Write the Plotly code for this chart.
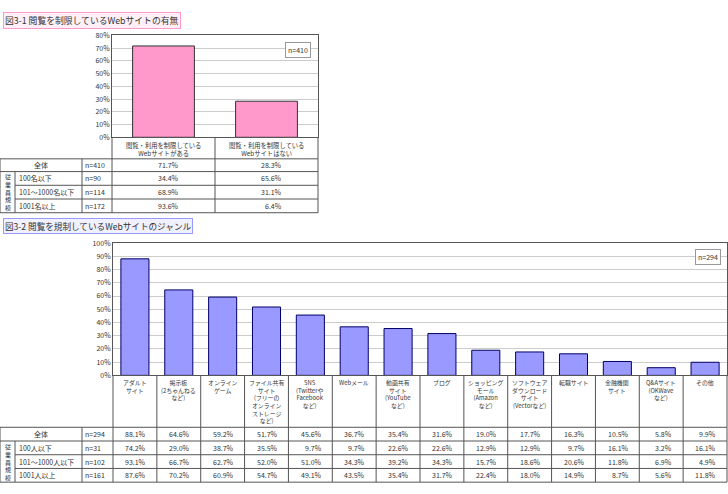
import plotly.graph_objects as go

# --- 図3-1 データ ---
cats1 = ['閲覧・利用を制限している<br>Webサイトがある', '閲覧・利用を制限している<br>Webサイトはない']
total1 = [71.7, 28.3]
rows1 = ['全体', '100名以下', '101～1000名以下', '1001名以上']
n1 = ['n=410', 'n=90', 'n=114', 'n=172']
has1 = [71.7, 34.4, 68.9, 93.6]
none1 = [28.3, 65.6, 31.1, 6.4]

# --- 図3-2 データ ---
cats2 = ['アダルト<br>サイト', '掲示板<br>(2ちゃんねる<br>など)', 'オンライン<br>ゲーム',
         'ファイル共有<br>サイト<br>(フリーの<br>オンライン<br>ストレージ<br>など)',
         'SNS<br>(Twitterや<br>Facebook<br>など)', 'Webメール',
         '動画共有<br>サイト<br>(YouTube<br>など)', 'ブログ',
         'ショッピング<br>モール<br>(Amazon<br>など)',
         'ソフトウェア<br>ダウンロード<br>サイト<br>(Vectorなど)',
         '転職サイト', '金融機関<br>サイト', 'Q&Aサイト<br>(OKWave<br>など)', 'その他']
rows2 = ['全体', '100人以下', '101～1000人以下', '1001人以上']
n2 = ['n=294', 'n=31', 'n=102', 'n=161']
vals2 = [
    [88.1, 64.6, 59.2, 51.7, 45.6, 36.7, 35.4, 31.6, 19.0, 17.7, 16.3, 10.5, 5.8, 9.9],
    [74.2, 29.0, 38.7, 35.5, 9.7, 9.7, 22.6, 22.6, 12.9, 12.9, 9.7, 16.1, 3.2, 16.1],
    [93.1, 66.7, 62.7, 52.0, 51.0, 34.3, 39.2, 34.3, 15.7, 18.6, 20.6, 11.8, 6.9, 4.9],
    [87.6, 70.2, 60.9, 54.7, 49.1, 43.5, 35.4, 31.7, 22.4, 18.0, 14.9, 8.7, 5.6, 11.8],
]

W, H = 728, 494
FONT = 'Noto Sans CJK JP'
TXT = '#333333'
LINE = '#555555'

def px(x):
    return x / W

def py(y):
    return 1 - y / H

fig = go.Figure()
fig.add_trace(go.Bar(x=cats1, y=total1, width=0.6, xaxis='x', yaxis='y',
                     marker=dict(color='#FF99CC', line=dict(color='#333333', width=1))))
fig.add_trace(go.Bar(x=cats2, y=vals2[0], width=0.64, xaxis='x2', yaxis='y2',
                     marker=dict(color='#9999FF', line=dict(color='#000066', width=1))))

shapes = []
ann = []

def hline(y, x0, x1):
    shapes.append(dict(type='line', xref='paper', yref='paper', x0=px(x0), x1=px(x1), y0=py(y), y1=py(y),
                       line=dict(color=LINE, width=1)))

def vline(x, y0, y1, xref='paper'):
    xx = px(x) if xref == 'paper' else x
    shapes.append(dict(type='line', xref=xref, yref='paper', x0=xx, x1=xx, y0=py(y0), y1=py(y1),
                       line=dict(color=LINE, width=1)))

def text(x, y, s, size=7.5, xanchor='center', xref='paper'):
    xx = px(x) if xref == 'paper' else x
    ann.append(dict(xref=xref, yref='paper', x=xx, y=py(y), text=s, showarrow=False,
                    xanchor=xanchor, yanchor='middle', font=dict(family=FONT, size=size, color=TXT)))

# ---------- 図3-1 ----------
ann.append(dict(xref='paper', yref='paper', x=px(3), y=py(15), text='図3-1 閲覧を制限しているWebサイトの有無',
                showarrow=False, xanchor='left', yanchor='middle', bgcolor='#FFF0F8',
                bordercolor='#FF99CC', borderwidth=1, borderpad=1,
                font=dict(family=FONT, size=8.8, color=TXT)))
ann.append(dict(xref='paper', yref='paper', x=px(311), y=py(37), text='n=410', showarrow=False,
                xanchor='right', yanchor='top', bgcolor='white', bordercolor='#999999', borderwidth=1,
                borderpad=2, font=dict(family=FONT, size=7, color=TXT)))
for c in cats1:
    ann.append(dict(xref='x', yref='paper', x=c, y=py(135.5), text=c, showarrow=False, xanchor='center',
                    yanchor='top', font=dict(family=FONT, size=6.3, color=TXT)))

b1 = [156, 169, 183, 197, 211]
for i, y in enumerate(b1):
    hline(y, 0 if i in (0, 1, 4) else 15, 318)
vline(0, 156, 211)
vline(15, 169, 211)
vline(82, 156, 211)
vline(112, 134, 211)
vline(0.5, 134, 211, xref='x')
vline(318, 134, 211)

for i in range(4):
    yc = (b1[i] + b1[i + 1]) / 2
    if i == 0:
        text(41, yc, rows1[i], size=7)
    else:
        text(16.5, yc, rows1[i], size=7, xanchor='left')
    text(83, yc, n1[i], size=7, xanchor='left')
    text(0.17, yc, f'{has1[i]:.1f}%', size=7, xanchor='right', xref='x')
    text(1.17, yc, f'{none1[i]:.1f}%', size=7, xanchor='right', xref='x')
text(7.5, 190, '従<br>業<br>員<br>規<br>模', size=6)

# ---------- 図3-2 ----------
ann.append(dict(xref='paper', yref='paper', x=px(3), y=py(225), text='図3-2 閲覧を規制しているWebサイトのジャンル',
                showarrow=False, xanchor='left', yanchor='middle', bgcolor='#F0F0FF',
                bordercolor='#9999FF', borderwidth=1, borderpad=1,
                font=dict(family=FONT, size=8.6, color=TXT)))
ann.append(dict(xref='paper', yref='paper', x=px(721), y=py(248), text='n=294', showarrow=False,
                xanchor='right', yanchor='top', bgcolor='white', bordercolor='#999999', borderwidth=1,
                borderpad=2, font=dict(family=FONT, size=7, color=TXT)))
for c in cats2:
    ann.append(dict(xref='x2', yref='paper', x=c, y=py(378), text=c, showarrow=False, xanchor='center',
                    yanchor='top', font=dict(family=FONT, size=5.9, color=TXT)))

b2 = [430, 444, 458, 472, 486]
for i, y in enumerate(b2):
    hline(y, 0 if i in (0, 1, 4) else 15, 727)
vline(0, 430, 486)
vline(15, 444, 486)
vline(82, 430, 486)
vline(113, 377, 486)
for k in range(len(cats2) - 1):
    vline(k + 0.5, 377, 486, xref='x2')
vline(727, 377, 486)

for i in range(4):
    yc = (b2[i] + b2[i + 1]) / 2
    if i == 0:
        text(41, yc, rows2[i], size=7)
    else:
        text(16.5, yc, rows2[i], size=7, xanchor='left')
    text(83, yc, n2[i], size=7, xanchor='left')
    for k, v in enumerate(vals2[i]):
        text(k + 0.3, yc, f'{v:.1f}%', size=7, xanchor='right', xref='x2')
text(7.5, 465, '従<br>業<br>員<br>規<br>模', size=6)

axis_common = dict(showline=True, mirror=True, linecolor=LINE, linewidth=1)
fig.update_layout(
    width=W, height=H, margin=dict(l=0, r=0, t=0, b=0),
    paper_bgcolor='white', plot_bgcolor='white', showlegend=False, bargap=0.4,
    font=dict(family=FONT, size=8, color=TXT),
    xaxis=dict(domain=[px(112), px(318)], anchor='y', showticklabels=False, ticks='', **axis_common),
    yaxis=dict(domain=[py(134), py(30)], anchor='x', range=[0, 80], dtick=10, ticksuffix='%',
               gridcolor='#cccccc', tickfont=dict(size=7), zeroline=False, **axis_common),
    xaxis2=dict(domain=[px(113), px(727)], anchor='y2', showticklabels=False, ticks='', **axis_common),
    yaxis2=dict(domain=[py(377), py(242)], anchor='x2', range=[0, 100], dtick=10, ticksuffix='%',
                gridcolor='#cccccc', tickfont=dict(size=7), zeroline=False, **axis_common),
    shapes=shapes, annotations=ann,
)

# ページ余白を消して 728x494 にぴったり収める
fig.write_html('out.html', config={'displayModeBar': False},
               post_script="document.body.style.margin='0';document.body.style.overflow='hidden';")
